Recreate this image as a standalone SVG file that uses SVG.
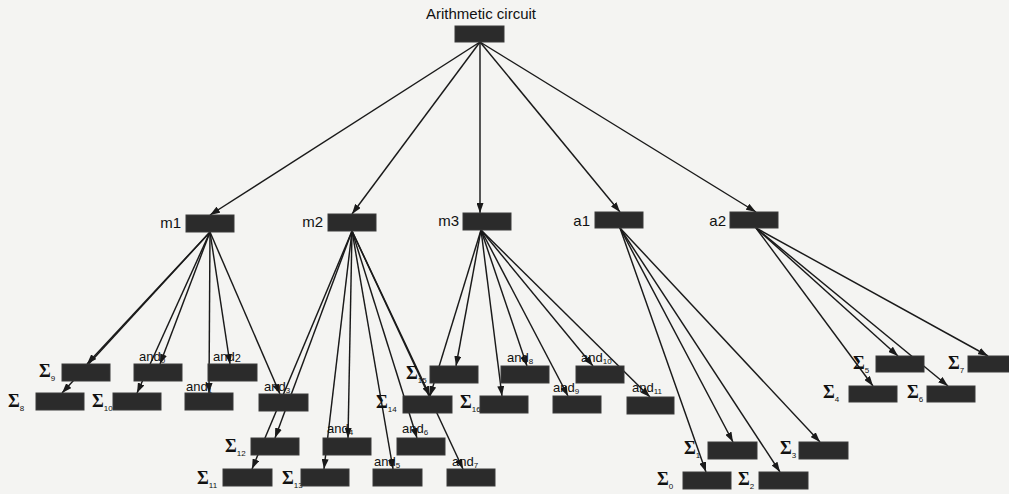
<svg xmlns="http://www.w3.org/2000/svg" width="1009" height="494" viewBox="0 0 1009 494">
  <defs>
    <marker id="arrow" markerUnits="userSpaceOnUse" markerWidth="10" markerHeight="7" refX="10" refY="3.5" orient="auto">
      <path d="M0,0 L10,3.5 L0,7 z" fill="#1a1a1a"/>
    </marker>
    <style>
      .bg { fill: #f4f4f2; }
      .box { fill: #2b2b2b; stroke: #3a3a3a; stroke-width: 1; }
      .edge { stroke: #1a1a1a; stroke-width: 1.45; fill: none; marker-end: url(#arrow); }
      .lbl { font-family: "Liberation Sans", Arial, sans-serif; font-size: 15px; fill: #111; }
      .and { font-family: "Liberation Sans", Arial, sans-serif; font-size: 13px; fill: #111; }
      .sig { font-family: "Liberation Serif", "Times New Roman", serif; font-weight: bold; font-size: 18px; fill: #111; }
      .sub { font-family: "Liberation Sans", Arial, sans-serif; font-weight: normal; font-size: 8px; }
    </style>
  </defs>

  <rect class="bg" x="0" y="0" width="1009" height="494"/>

  <!-- connectors -->
  <g id="connectors">
    <!-- root -->
    <line class="edge" x1="480" y1="42" x2="210" y2="215"/>
    <line class="edge" x1="480" y1="42" x2="352" y2="214"/>
    <line class="edge" x1="480" y1="42" x2="480" y2="213"/>
    <line class="edge" x1="480" y1="42" x2="620" y2="212"/>
    <line class="edge" x1="480" y1="42" x2="756" y2="212"/>
    <!-- m1 -->
    <line class="edge" x1="210" y1="232" x2="87" y2="364"/>
    <line class="edge" x1="210" y1="232" x2="62" y2="393"/>
    <line class="edge" x1="210" y1="232" x2="160" y2="364"/>
    <line class="edge" x1="210" y1="232" x2="137" y2="393"/>
    <line class="edge" x1="210" y1="232" x2="209" y2="393"/>
    <line class="edge" x1="210" y1="232" x2="230" y2="364"/>
    <line class="edge" x1="210" y1="232" x2="280" y2="394"/>
    <!-- m2 -->
    <line class="edge" x1="352" y1="231" x2="275" y2="438"/>
    <line class="edge" x1="352" y1="231" x2="252" y2="469"/>
    <line class="edge" x1="352" y1="231" x2="324" y2="469"/>
    <line class="edge" x1="352" y1="231" x2="348" y2="438"/>
    <line class="edge" x1="352" y1="231" x2="393" y2="469"/>
    <line class="edge" x1="352" y1="231" x2="417" y2="438"/>
    <line class="edge" x1="352" y1="231" x2="430" y2="396"/>
    <line class="edge" x1="352" y1="231" x2="463" y2="469"/>
    <!-- m3 -->
    <line class="edge" x1="481" y1="230" x2="430" y2="396"/>
    <line class="edge" x1="481" y1="230" x2="456" y2="366"/>
    <line class="edge" x1="481" y1="230" x2="502" y2="396"/>
    <line class="edge" x1="481" y1="230" x2="527" y2="366"/>
    <line class="edge" x1="481" y1="230" x2="568" y2="396"/>
    <line class="edge" x1="481" y1="230" x2="593" y2="366"/>
    <line class="edge" x1="481" y1="230" x2="650" y2="397"/>
    <!-- a1 -->
    <line class="edge" x1="620" y1="228" x2="706" y2="472"/>
    <line class="edge" x1="620" y1="228" x2="733" y2="442"/>
    <line class="edge" x1="620" y1="228" x2="780" y2="472"/>
    <line class="edge" x1="620" y1="228" x2="820" y2="442"/>
    <!-- a2 -->
    <line class="edge" x1="756" y1="228" x2="873" y2="386"/>
    <line class="edge" x1="756" y1="228" x2="898" y2="356"/>
    <line class="edge" x1="756" y1="228" x2="948" y2="386"/>
    <line class="edge" x1="756" y1="228" x2="988" y2="356"/>
  </g>

  <!-- top level -->
  <g id="root">
    <text class="lbl" x="481" y="19" text-anchor="middle">Arithmetic circuit</text>
    <rect class="box" x="455" y="26" width="49" height="16"/>
  </g>
  <g id="m1">
    <text class="lbl" x="181" y="228" text-anchor="end">m1</text>
    <rect class="box" x="186" y="215" width="48" height="17"/>
  </g>
  <g id="m2">
    <text class="lbl" x="323" y="227" text-anchor="end">m2</text>
    <rect class="box" x="328" y="214" width="48" height="17"/>
  </g>
  <g id="m3">
    <text class="lbl" x="459" y="226" text-anchor="end">m3</text>
    <rect class="box" x="463" y="213" width="48" height="17"/>
  </g>
  <g id="a1">
    <text class="lbl" x="590" y="226" text-anchor="end">a1</text>
    <rect class="box" x="595" y="212" width="48" height="16"/>
  </g>
  <g id="a2">
    <text class="lbl" x="726" y="226" text-anchor="end">a2</text>
    <rect class="box" x="730" y="212" width="48" height="16"/>
  </g>

  <!-- children of m1 -->
  <g id="sigma9">
    <text class="sig" x="39" y="377">Σ<tspan class="sub" dy="4">9</tspan></text>
    <rect class="box" x="62" y="364" width="48" height="17"/>
  </g>
  <g id="and0">
    <text class="and" x="139" y="361">and<tspan class="sub" dy="2">0</tspan></text>
    <rect class="box" x="134" y="364" width="48" height="17"/>
  </g>
  <g id="and2">
    <text class="and" x="213" y="361">and<tspan font-size="11" dy="1">2</tspan></text>
    <rect class="box" x="208" y="364" width="49" height="17"/>
  </g>
  <g id="sigma8">
    <text class="sig" x="8" y="407">Σ<tspan class="sub" dy="4">8</tspan></text>
    <rect class="box" x="36" y="393" width="48" height="17"/>
  </g>
  <g id="sigma10">
    <text class="sig" x="92" y="407">Σ<tspan class="sub" dy="4">10</tspan></text>
    <rect class="box" x="113" y="393" width="48" height="17"/>
  </g>
  <g id="and1">
    <text class="and" x="186" y="391">and<tspan class="sub" dy="2">1</tspan></text>
    <rect class="box" x="185" y="393" width="48" height="17"/>
  </g>
  <g id="and3">
    <text class="and" x="264" y="391">and<tspan class="sub" dy="2">3</tspan></text>
    <rect class="box" x="259" y="394" width="49" height="17"/>
  </g>

  <!-- children of m2 -->
  <g id="sigma12">
    <text class="sig" x="225" y="452">Σ<tspan class="sub" dy="4">12</tspan></text>
    <rect class="box" x="251" y="438" width="48" height="17"/>
  </g>
  <g id="and4">
    <text class="and" x="327" y="433">and<tspan class="sub" dy="2">4</tspan></text>
    <rect class="box" x="323" y="438" width="48" height="17"/>
  </g>
  <g id="and6">
    <text class="and" x="402" y="433">and<tspan class="sub" dy="2">6</tspan></text>
    <rect class="box" x="397" y="438" width="48" height="17"/>
  </g>
  <g id="sigma11">
    <text class="sig" x="197" y="484">Σ<tspan class="sub" dy="4">11</tspan></text>
    <rect class="box" x="223" y="469" width="49" height="17"/>
  </g>
  <g id="sigma13">
    <text class="sig" x="282" y="484">Σ<tspan class="sub" dy="4">13</tspan></text>
    <rect class="box" x="301" y="469" width="48" height="17"/>
  </g>
  <g id="and5">
    <text class="and" x="374" y="466">and<tspan class="sub" dy="2">5</tspan></text>
    <rect class="box" x="373" y="469" width="49" height="17"/>
  </g>
  <g id="and7">
    <text class="and" x="452" y="466">and<tspan class="sub" dy="2">7</tspan></text>
    <rect class="box" x="447" y="469" width="48" height="17"/>
  </g>
  <g id="sigma14">
    <text class="sig" x="376" y="408">Σ<tspan class="sub" dy="4">14</tspan></text>
    <rect class="box" x="403" y="396" width="49" height="17"/>
  </g>

  <!-- children of m3 -->
  <g id="sigma15">
    <text class="sig" x="406" y="379">Σ<tspan class="sub" dy="4">15</tspan></text>
    <rect class="box" x="430" y="366" width="48" height="17"/>
  </g>
  <g id="sigma16">
    <text class="sig" x="460" y="408">Σ<tspan class="sub" dy="4">16</tspan></text>
    <rect class="box" x="480" y="396" width="48" height="17"/>
  </g>
  <g id="and8">
    <text class="and" x="507" y="362">and<tspan class="sub" dy="2">8</tspan></text>
    <rect class="box" x="501" y="366" width="48" height="17"/>
  </g>
  <g id="and10">
    <text class="and" x="581" y="362">and<tspan class="sub" dy="2">10</tspan></text>
    <rect class="box" x="576" y="366" width="48" height="17"/>
  </g>
  <g id="and9">
    <text class="and" x="553" y="392">and<tspan class="sub" dy="2">9</tspan></text>
    <rect class="box" x="553" y="396" width="48" height="17"/>
  </g>
  <g id="and11">
    <text class="and" x="632" y="392">and<tspan class="sub" dy="2">11</tspan></text>
    <rect class="box" x="627" y="397" width="47" height="17"/>
  </g>

  <!-- children of a1 -->
  <g id="sigma1">
    <text class="sig" x="684" y="454">Σ<tspan class="sub" dy="4">1</tspan></text>
    <rect class="box" x="708" y="442" width="49" height="17"/>
  </g>
  <g id="sigma3">
    <text class="sig" x="780" y="454">Σ<tspan class="sub" dy="4">3</tspan></text>
    <rect class="box" x="799" y="442" width="49" height="17"/>
  </g>
  <g id="sigma0">
    <text class="sig" x="657" y="485">Σ<tspan class="sub" dy="4">0</tspan></text>
    <rect class="box" x="683" y="472" width="48" height="17"/>
  </g>
  <g id="sigma2">
    <text class="sig" x="738" y="485">Σ<tspan class="sub" dy="4">2</tspan></text>
    <rect class="box" x="759" y="472" width="49" height="17"/>
  </g>

  <!-- children of a2 -->
  <g id="sigma5">
    <text class="sig" x="853" y="369">Σ<tspan class="sub" dy="4">5</tspan></text>
    <rect class="box" x="876" y="356" width="48" height="16"/>
  </g>
  <g id="sigma7">
    <text class="sig" x="948" y="369">Σ<tspan class="sub" dy="4">7</tspan></text>
    <rect class="box" x="968" y="356" width="48" height="16"/>
  </g>
  <g id="sigma4">
    <text class="sig" x="823" y="398">Σ<tspan class="sub" dy="4">4</tspan></text>
    <rect class="box" x="849" y="386" width="48" height="16"/>
  </g>
  <g id="sigma6">
    <text class="sig" x="907" y="398">Σ<tspan class="sub" dy="4">6</tspan></text>
    <rect class="box" x="927" y="386" width="48" height="16"/>
  </g>
</svg>
